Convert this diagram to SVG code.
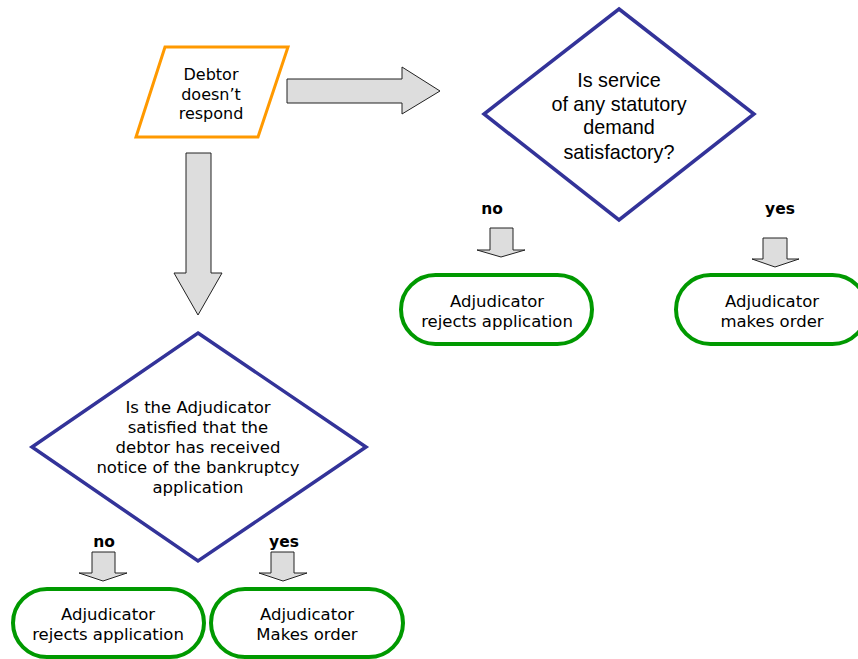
<svg xmlns="http://www.w3.org/2000/svg" width="858" height="659" viewBox="0 0 858 659">
<style>
.v{font-family:"DejaVu Sans",Verdana,sans-serif;font-size:16.5px;fill:#000;text-anchor:middle}
.a{font-family:"Liberation Sans",Arial,sans-serif;font-size:19.8px;fill:#000;text-anchor:middle}
.b{font-family:"DejaVu Sans",Verdana,sans-serif;font-size:15.5px;font-weight:bold;fill:#000;text-anchor:middle}
.dia{fill:#fff;stroke:#333399;stroke-width:3.5;stroke-linejoin:miter}
.term{fill:#fff;stroke:#009900;stroke-width:4}
.arr{fill:#DDDDDD;stroke:#222;stroke-width:1}
</style>
<rect width="858" height="659" fill="#fff"/>
<g id="connectors">
<polygon class="arr" points="287,79 402,79 402,67 440,91 402,114 402,103 287,103"/>
<polygon class="arr" points="186,153 211,153 211,273 222,273 198,315 174,273 186,273"/>
<polygon class="arr" points="490,228 513,228 513,250 525,250 501,257 477,250 490,250"/>
<polygon class="arr" points="763,238 787,238 787,259 799,259 775,267 752,259 763,259"/>
<polygon class="arr" points="92,552 115,552 115,573 127,573 103,581 79,573 92,573"/>
<polygon class="arr" points="271,552 294,552 294,573 307,573 283,581 259,573 271,573"/>
<text class="b" x="492" y="214">no</text>
<text class="b" x="780" y="214">yes</text>
<text class="b" x="104" y="547">no</text>
<text class="b" x="284" y="547">yes</text>
</g>
<g id="debtor">
<polygon points="165,47 288,47 258,137 136,137" fill="#fff" stroke="#FF9900" stroke-width="3"/>
<text class="v" x="211" y="80" style="font-size:16px">Debtor</text>
<text class="v" x="211" y="100" style="font-size:16px">doesn’t</text>
<text class="v" x="211" y="119" style="font-size:16px">respond</text>
</g>
<g id="q-service">
<polygon class="dia" points="619,9 754,114 619,220 484,114"/>
<text class="a" x="619" y="87">Is service</text>
<text class="a" x="619" y="111">of any statutory</text>
<text class="a" x="619" y="134">demand</text>
<text class="a" x="619" y="159">satisfactory?</text>
</g>
<g id="reject-1">
<rect class="term" x="401" y="275" width="191" height="69" rx="34.5" ry="34.5"/>
<text class="v" x="497" y="307">Adjudicator</text>
<text class="v" x="497" y="327">rejects application</text>
</g>
<g id="order-1">
<rect class="term" x="676" y="275" width="191" height="69" rx="34.5" ry="34.5"/>
<text class="v" x="772" y="307">Adjudicator</text>
<text class="v" x="772" y="327">makes order</text>
</g>
<g id="q-notice">
<polygon class="dia" points="198,333 366,447 198,561 32,447"/>
<text class="v" x="198" y="413">Is the Adjudicator</text>
<text class="v" x="198" y="433">satisfied that the</text>
<text class="v" x="198" y="453">debtor has received</text>
<text class="v" x="198" y="473">notice of the bankruptcy</text>
<text class="v" x="198" y="493">application</text>
</g>
<g id="reject-2">
<rect class="term" x="13" y="589" width="191" height="68" rx="34" ry="34"/>
<text class="v" x="108" y="620">Adjudicator</text>
<text class="v" x="108" y="640">rejects application</text>
</g>
<g id="order-2">
<rect class="term" x="211" y="589" width="192" height="68" rx="34" ry="34"/>
<text class="v" x="307" y="620">Adjudicator</text>
<text class="v" x="307" y="640">Makes order</text>
</g>
</svg>
